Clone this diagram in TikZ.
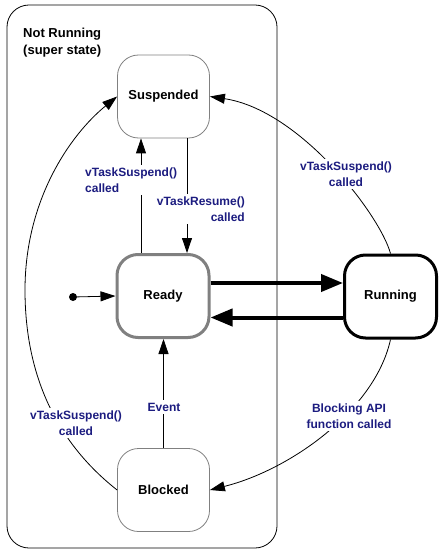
\documentclass[tikz,border=0pt]{standalone}
\usepackage{fontspec}
\setmainfont{Liberation Sans}
\usepackage{tikz}
\usetikzlibrary{arrows.meta}

\definecolor{labelblue}{RGB}{28,28,128}
\definecolor{stategray}{RGB}{128,128,128}

\begin{document}
\begin{tikzpicture}[x=1pt, y=-1pt,
    state/.style={draw, rectangle, rounded corners=21pt, minimum width=92pt,
        minimum height=83pt, font=\fontsize{13}{15}\selectfont\bfseries},
    thinarrow/.style={-{Triangle[length=15pt,width=10pt]}, line width=0.8pt},
    thickarrow/.style={-{Triangle[length=22pt,width=17pt]}, line width=4pt},
    evlabel/.style={fill=white, text=labelblue, inner sep=3pt,
        font=\fontsize{12}{16}\selectfont\bfseries}]
    \useasboundingbox (0, 0) rectangle (443, 556);

    % Not Running super state
    \draw[line width=0.8pt, rounded corners=22pt] (7, 5) rectangle (277, 548);
    \node[anchor=west, align=left, inner sep=3pt,
        font=\fontsize{13}{17}\selectfont\bfseries] (super) at (20, 43)
        {Not Running\\(super state)};

    % states
    \node[state, draw=stategray, line width=0.8pt] (susp) at (163.5, 96.5) {Suspended};
    \node[state, draw=stategray, line width=3pt] (ready) at (163, 296) {Ready};
    \node[state, line width=3pt] (run) at (390.5, 296.5) {Running};
    \node[state, draw=stategray, line width=0.8pt] (blk) at (163.5, 490) {Blocked};

    % initial state
    \node[circle, fill, inner sep=0pt, minimum size=8pt] (init) at (73, 297) {};
    \draw[thinarrow] (init) -- (ready.west);

    % Ready <-> Running
    \draw[thickarrow] ([yshift=13pt]ready.east) -- ([yshift=13pt]ready.east -| run.west);
    \draw[thickarrow] ([yshift=-21pt]run.west) -- ([yshift=-21pt]run.west -| ready.east);

    % Ready <-> Suspended
    \draw[thinarrow] ([xshift=-22pt]ready.north) -- ([xshift=-22.5pt]susp.south);
    \draw[thinarrow] ([xshift=23.5pt]susp.south) -- ([xshift=24pt]ready.north);

    % Running -> Suspended, Running -> Blocked
    \draw[thinarrow] (run.north) .. controls (380, 215) and (300, 110) .. (susp.east);
    \draw[thinarrow] (run.south) .. controls (375, 410) and (290, 470) .. (blk.east);

    % Blocked -> Suspended
    \draw[thinarrow] (blk.west) .. controls (60, 445) and (25, 380) .. (25, 290)
        .. controls (25, 200) and (70, 135) .. (susp.west);

    % Blocked -> Ready
    \draw[thinarrow] (blk.north) -- (blk.north |- ready.south);

    % labels
    \node[evlabel, anchor=west, align=left] (lsusp) at (82, 180) {vTaskSuspend()\\called};
    \node[evlabel, anchor=east, align=right] (lres) at (248, 209) {vTaskResume()\\called};
    \node[evlabel, align=center] (lrunsusp) at (346, 174) {vTaskSuspend()\\called};
    \node[evlabel, align=center] (lblksusp) at (76, 423) {vTaskSuspend()\\called};
    \node[evlabel, align=center] (lblock) at (349, 416) {Blocking API\\function called};
    \node[evlabel] (lev) at (164, 407) {Event};
\end{tikzpicture}
\end{document}
